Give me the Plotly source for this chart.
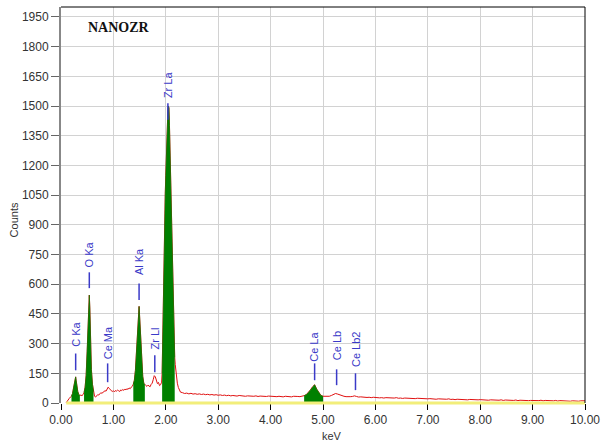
import numpy as np
import plotly.graph_objects as go

# ---------------- data ----------------
# low-energy part of the spectrum (keV, counts) – variable sampling around peaks
e_low = [0.10, 0.12, 0.14, 0.16, 0.18, 0.20, 0.22, 0.24, 0.26, 0.27, 0.28, 0.29, 0.30, 0.32, 0.34, 0.36,
         0.38, 0.40, 0.42, 0.44, 0.46, 0.48, 0.50, 0.51, 0.52, 0.53, 0.54, 0.55, 0.56, 0.57, 0.58, 0.60,
         0.62, 0.64, 0.66, 0.68, 0.70, 0.72, 0.74, 0.76, 0.78, 0.80, 0.82, 0.84, 0.86, 0.88, 0.90, 0.92,
         0.94, 0.96, 0.98, 1.00, 1.02, 1.04, 1.06, 1.08, 1.10, 1.12, 1.14, 1.16, 1.18, 1.20, 1.22, 1.24,
         1.26, 1.28, 1.30, 1.32, 1.34, 1.36, 1.38, 1.40, 1.42, 1.44, 1.46, 1.48, 1.49, 1.50, 1.52, 1.54,
         1.56, 1.58, 1.60, 1.62, 1.64, 1.66, 1.68, 1.70, 1.72, 1.74, 1.76, 1.78, 1.80, 1.82, 1.84, 1.86,
         1.88, 1.90, 1.92, 1.93, 1.94, 1.95, 1.96, 1.97, 1.98, 1.99, 2.00, 2.01, 2.02, 2.03, 2.04, 2.05,
         2.06, 2.07, 2.08, 2.09, 2.10, 2.11, 2.12, 2.13, 2.14, 2.15, 2.16, 2.17, 2.18, 2.19, 2.20, 2.22,
         2.24, 2.26, 2.28]
c_low = [2, 12, 20, 24, 30, 34, 48, 78, 112, 128, 132, 112, 88, 58, 42, 38,
         40, 37, 42, 52, 80, 140, 260, 360, 450, 525, 545, 480, 370, 250, 170, 95,
         58, 34, 30, 38, 42, 40, 47, 52, 49, 55, 58, 62, 60, 72, 80, 74,
         66, 62, 58, 62, 56, 63, 60, 65, 62, 58, 66, 63, 68, 64, 70, 67,
         72, 69, 76, 72, 80, 84, 95, 115, 165, 265, 385, 470, 488, 440, 330, 205,
         135, 100, 92, 88, 84, 90, 86, 82, 94, 100, 118, 138, 132, 112, 98, 104,
         88, 92, 105, 150, 320, 560, 760, 900, 1000, 1060, 1150, 1250, 1350, 1430, 1480, 1500,
         1490, 1400, 1280, 1160, 1060, 900, 720, 560, 430, 330, 270, 230, 195, 165, 140, 100,
         78, 62, 55]

# high-energy part, sampled every 0.04 keV from 2.32 keV to 10.00 keV
c_high = [52, 48, 50, 46, 49, 45, 47, 44, 46, 43, 45, 42, 44, 41, 43, 40, 42, 39,          # 2.32-3.00
          41, 38, 40, 37, 39, 36, 38, 37, 35, 38, 36, 37, 34, 36, 35, 37, 34, 36, 33, 35,  # 3.04-3.80
          34, 36, 33, 35, 34,                                                                # 3.84-4.00
          33, 35, 32, 34, 33, 31, 34, 32, 33, 31, 34, 32, 33, 32, 34,                        # 4.04-4.60
          37, 42, 52, 66, 82, 92, 70, 50, 38, 34,                                            # 4.64-5.00
          33, 35, 34, 38, 41, 48, 45, 40, 37, 34, 32, 31, 32, 33, 36,                        # 5.04-5.60
          33, 30, 31, 29, 30, 28, 29, 27, 29, 27,                                            # 5.64-6.00
          28, 26, 27, 25, 27, 26, 24, 26, 25, 27, 24, 25, 23, 25, 24, 26, 23, 24, 22, 24,  # 6.04-6.80
          23, 21, 23, 22, 21,                                                                # 6.84-7.00
          22, 20, 21, 19, 21, 20, 18, 20, 19, 21, 18, 19, 17, 19, 18, 20, 17, 18, 16, 18,  # 7.04-7.80
          17, 15, 17, 16, 17,                                                                # 7.84-8.00
          16, 15, 17, 14, 16, 15, 13, 15, 14, 16, 13, 15, 14, 12, 14, 13, 15, 12, 14, 13,  # 8.04-8.80
          12, 14, 12, 13, 12,                                                                # 8.84-9.00
          13, 11, 12, 14, 11, 13, 12, 10, 12, 11, 13, 10, 12, 11, 10, 12, 11, 9, 11, 10,   # 9.04-9.80
          12, 9, 11, 10, 11]                                                                 # 9.84-10.00

# regions of interest (filled green)
roi_start = [0.20, 0.44, 1.38, 1.93, 4.64]
roi_end = [0.36, 0.62, 1.60, 2.17, 5.00]

# peak identification labels
peak_names = ["C Ka", "O Ka", "Ce Ma", "Al Ka", "Zr Ll", "Zr La", "Ce La", "Ce Lb", "Ce Lb2"]
peak_kev = [0.28, 0.54, 0.89, 1.49, 1.79, 2.04, 4.84, 5.26, 5.62]
mark_lo = [165, 580, 105, 520, 155, 1430, 115, 90, 65]
mark_hi = [250, 660, 200, 604, 241, 1514, 200, 170, 150]
label_y = [348, 752, 305, 712, 325, 1610, 282, 290, 270]

x_ticks = [0, 1, 2, 3, 4, 5, 6, 7, 8, 9, 10]
y_ticks = list(range(0, 2000, 150))

# --------------- build ----------------
e_high = list(np.round(2.32 + 0.04 * np.arange(len(c_high)), 2))
energy = np.array(e_low + e_high)
counts = np.array(c_low + c_high)

fig = go.Figure()

red = "#e01010"
green = "#008000"
blue = "#3a3ac8"

fig.add_trace(go.Scatter(x=energy, y=counts, mode="lines",
                         line=dict(color=red, width=1), hoverinfo="skip"))

for s, e in zip(roi_start, roi_end):
    m = (energy >= s - 1e-9) & (energy <= e + 1e-9)
    fig.add_trace(go.Scatter(x=energy[m], y=counts[m], mode="lines", fill="tozeroy",
                             fillcolor=green, line=dict(color=green, width=0.6),
                             hoverinfo="skip"))

shapes = []
annotations = []
for name, k, lo, hi, ly in zip(peak_names, peak_kev, mark_lo, mark_hi, label_y):
    shapes.append(dict(type="line", xref="x", yref="y", x0=k, x1=k, y0=lo, y1=hi,
                       line=dict(color=blue, width=1.5)))
    annotations.append(dict(x=k, y=ly, xref="x", yref="y", text=name, textangle=-90,
                            xanchor="center", yanchor="middle",
                            showarrow=False, font=dict(family="Liberation Sans", size=11, color=blue)))

# yellow baseline
shapes.append(dict(type="line", xref="paper", yref="paper", x0=0.01, x1=1.0, y0=0.0, y1=0.0,
                   line=dict(color="#f2ee7a", width=3), layer="above"))
# top and right frame
shapes.append(dict(type="line", xref="paper", yref="paper", x0=0, x1=1, y0=1, y1=1,
                   line=dict(color="#000000", width=1)))
shapes.append(dict(type="line", xref="paper", yref="paper", x0=1, x1=1, y0=0, y1=1,
                   line=dict(color="#000000", width=1)))

annotations.append(dict(x=0.111, y=0.949, xref="paper", yref="paper", text="<b>NANOZR</b>",
                        xanchor="center", yanchor="middle",
                        showarrow=False, font=dict(family="Liberation Serif", size=14, color="#111111")))
annotations.append(dict(x=-0.089, y=0.462, xref="paper", yref="paper", text="Counts", textangle=-90,
                        xanchor="center", yanchor="middle",
                        showarrow=False, font=dict(family="Liberation Sans", size=11, color="#333333")))
annotations.append(dict(x=0.517, y=-0.083, xref="paper", yref="paper", text="keV",
                        xanchor="center", yanchor="middle",
                        showarrow=False, font=dict(family="Liberation Sans", size=11, color="#333333")))

fig.update_layout(
    width=607, height=446,
    margin=dict(l=61, r=16, t=7, b=43),
    paper_bgcolor="white", plot_bgcolor="white",
    showlegend=False,
    shapes=shapes, annotations=annotations,
    xaxis=dict(range=[0, 10], tickvals=x_ticks, ticktext=[f"{v:.2f}" for v in x_ticks],
               ticks="outside", ticklen=6, tickcolor="#000000", showline=False,
               showgrid=True, gridcolor="#d2d2d2", gridwidth=1, zeroline=False,
               tickfont=dict(family="Liberation Sans", size=12, color="#333333")),
    yaxis=dict(range=[0, 2000], tickvals=y_ticks, ticks="outside", ticklen=8, tickcolor="#666666",
               showline=True, linecolor="#888888", linewidth=2,
               showgrid=True, gridcolor="#d2d2d2", gridwidth=1, zeroline=False,
               tickfont=dict(family="Liberation Sans", size=12, color="#333333")),
)

fig.write_html("out.html")
